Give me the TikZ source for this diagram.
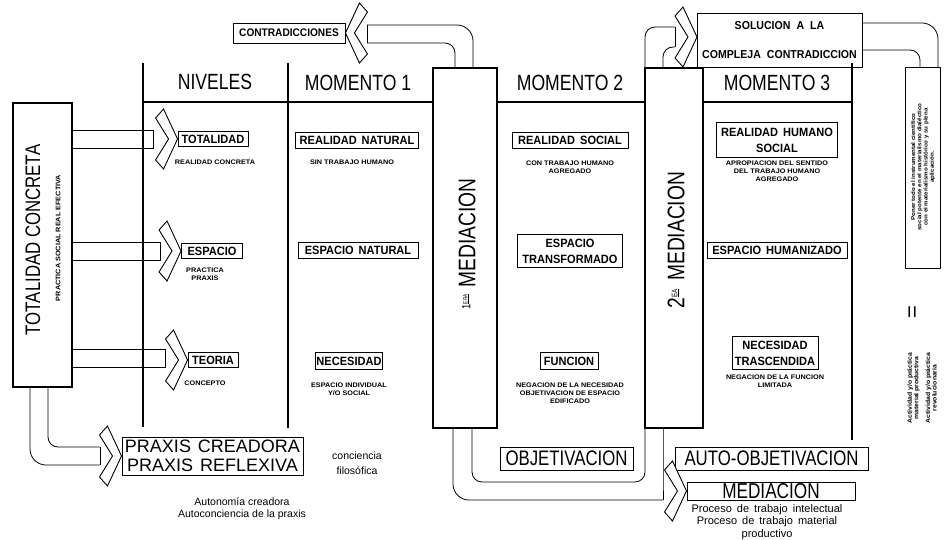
\documentclass[tikz,border=0pt]{standalone}
\usepackage{fontspec}
\setmainfont{Liberation Sans}
\newfontfamily\nar[FakeStretch=0.8]{Liberation Sans}
\newfontfamily\bxf[FakeStretch=0.92]{Liberation Sans}
\newfontfamily\wdf[FakeStretch=1.1]{Liberation Sans}
\tikzset{
  sepline/.style={line width=2},
  medbox/.style={draw,line width=1.2,inner sep=0},
  lbox/.style={draw,line width=0.9,inner sep=1,align=center,font=\bxf\bfseries\fontsize{12}{16}\selectfont},
  tinyt/.style={inner sep=0,align=center,font=\wdf\bfseries\fontsize{6.6}{8}\selectfont},
  bigt/.style={inner sep=0,align=center,font=\nar\fontsize{22}{18}\selectfont},
  bigbox/.style={draw,line width=1,inner sep=0,align=center,font=\nar\fontsize{21}{18}\selectfont},
  hand/.style={inner sep=0,align=center,font=\fontsize{10.5}{12}\selectfont},
  pipe/.style={line width=0.8,rounded corners=10},
  pipeo/.style={line width=0.8,rounded corners=16},
  pipec/.style={line width=0.8},
  chev/.pic={\filldraw[fill=white,draw=black,line width=0.9] (0,0) -- (-14,30) -- (-22,21) -- (-9,0) -- (-22,-21) -- (-14,-30) -- cycle;}
}
\begin{document}
\begin{tikzpicture}[x=1pt,y=-1pt]
\fill[white] (0,0) rectangle (950,540);
\useasboundingbox (0,0) rectangle (950,540);

% ---------- main boxes
\node[medbox, minimum width=59, minimum height=284] (tc) at (42.5,245) {};
\node[bigt, font=\nar\fontsize{21}{21}\selectfont, rotate=90] (tct) at (33,240) {TOTALIDAD CONCRETA};
\node[tinyt, rotate=90] (tcs) at (58,238) {PRACTICA SOCIAL REAL EFECTIVA};

\node[medbox, minimum width=64, minimum height=360] (m1) at (465,248) {};
\node[medbox, minimum width=58, minimum height=360] (m2) at (674,248) {};
\node[bigt, rotate=90, font=\nar\fontsize{24}{24}\selectfont] (m1t) at (467,244)
  {\raisebox{5pt}{\fontsize{12}{12}\selectfont 1\raisebox{3pt}{\fontsize{6}{6}\selectfont\underline{ERA}}}\hspace{7pt}MEDIACION};
\node[bigt, rotate=90, font=\nar\fontsize{24}{24}\selectfont] (m2t) at (676,240)
  {2\raisebox{7pt}{\fontsize{8}{8}\selectfont\underline{EA}}\hspace{8pt}MEDIACION};

% ---------- separators and header
\draw[sepline] (143,63) -- (143,427);
\draw[sepline] (288,63) -- (288,428);
\draw[sepline] (852,63) -- (852,440);
\draw[sepline] (143,102) -- (m1.west |- 0,102);
\draw[sepline] (m1.east |- 0,102) -- (m2.west |- 0,102);
\draw[sepline] (m2.east |- 0,102) -- (852,102);
\node[bigt] (hniv) at (215,82) {NIVELES};
\node[bigt] (hm1) at (358,83) {MOMENTO 1};
\node[bigt] (hm2) at (570,83) {MOMENTO 2};
\node[bigt] (hm3) at (777,83) {MOMENTO 3};

% ---------- NIVELES
\node[lbox, minimum width=70, minimum height=15] (tot) at (213,139) {TOTALIDAD};
\node[tinyt] (totc) at (215,162) {REALIDAD CONCRETA};
\node[lbox, minimum width=61, minimum height=15] (esp) at (212,251) {ESPACIO};
\node[tinyt] (espc) at (205,274) {PRACTICA\\PRAXIS};
\node[lbox, minimum width=50, minimum height=15] (teo) at (213,360) {TEORIA};
\node[tinyt] (teoc) at (205,383) {CONCEPTO};

% ---------- MOMENTO 1
\node[lbox, minimum width=123, minimum height=16] (rn) at (357,140) {REALIDAD\hspace{5pt}NATURAL};
\node[tinyt] (rnc) at (352,162) {SIN TRABAJO HUMANO};
\node[lbox, minimum width=120, minimum height=16] (en) at (358,250) {ESPACIO\hspace{5pt}NATURAL};
\node[lbox, minimum width=52, minimum height=17] (ne) at (349,361) {NECESIDAD};
\node[tinyt] (nec) at (349,389) {ESPACIO INDIVIDUAL\\Y/O SOCIAL};

% ---------- MOMENTO 2
\node[lbox, minimum width=116, minimum height=16] (rs) at (570,140) {REALIDAD\hspace{5pt}SOCIAL};
\node[tinyt] (rsc) at (570,167) {CON TRABAJO HUMANO\\AGREGADO};
\node[lbox, minimum width=105, minimum height=33] (et) at (570,251) {ESPACIO\\TRANSFORMADO};
\node[lbox, minimum width=58, minimum height=17] (fu) at (569,361) {FUNCION};
\node[tinyt] (fuc) at (570,393) {NEGACION DE LA NECESIDAD\\OBJETIVACION DE ESPACIO\\EDIFICADO};

% ---------- MOMENTO 3
\node[lbox, minimum width=121, minimum height=35] (rh) at (777,140) {REALIDAD\hspace{5pt}HUMANO\\SOCIAL};
\node[tinyt] (rhc) at (777,171) {APROPIACION DEL SENTIDO\\DEL TRABAJO HUMANO\\AGREGADO};
\node[lbox, minimum width=140, minimum height=16] (eh) at (777,250) {ESPACIO\hspace{5pt}HUMANIZADO};
\node[lbox, minimum width=86, minimum height=33] (nt) at (775,353) {NECESIDAD\\TRASCENDIDA};
\node[tinyt] (ntc) at (775,381) {NEGACION DE LA FUNCION\\LIMITADA};

% ---------- top
\node[lbox, font=\bxf\bfseries\fontsize{11}{11}\selectfont, minimum width=112, minimum height=20] (con) at (289,33) {CONTRADICCIONES};
\node[lbox, font=\bxf\bfseries\fontsize{11.5}{13}\selectfont, minimum width=165, minimum height=54] (sol) at (779.5,40)
  {SOLUCION\hspace{6pt}A\hspace{6pt}LA\\[16pt]COMPLEJA\hspace{6pt}CONTRADICCION};

% ---------- right column
\node[draw, line width=1, minimum width=35, minimum height=200, inner sep=0] (rb) at (922.5,168) {};
\node[tinyt, rotate=90, font=\wdf\bfseries\fontsize{5.6}{6.2}\selectfont] (rbt) at (923,167)
  {Poner todo el instrumental científico\\social potente en el materialismo dialéctico\\con el materialismo histórico y su plena\\aplicación.};
\node[rotate=90, inner sep=0, font=\fontsize{22}{22}\selectfont] (eqs) at (914,312) {=};
\node[tinyt, rotate=90, font=\wdf\bfseries\fontsize{6.2}{6.6}\selectfont] (actt) at (922,388)
  {Actividad y/o práctica\\material productiva\\[5pt]Actividad y/o práctica\\revolucionaria};

% ---------- bottom
\node[bigbox, font=\fontsize{18}{19.5}\selectfont, minimum width=181, minimum height=38] (px) at (212.5,456)
  {PRAXIS\hspace{7pt}CREADORA\\PRAXIS\hspace{7pt}REFLEXIVA};
\node[hand, font=\fontsize{10.5}{15}\selectfont] (conc) at (357,463) {conciencia\\filosófica};
\node[hand] (autn) at (242,509) {Autonomía creadora\\Autoconciencia de la praxis};
\node[bigbox, minimum width=133, minimum height=23] (obj) at (566.5,458.5) {OBJETIVACION};
\node[bigbox, minimum width=193, minimum height=23] (ao) at (771.5,458.5) {AUTO-OBJETIVACION};
\node[bigbox, font=\nar\fontsize{21.5}{21.5}\selectfont, minimum width=168, minimum height=18] (medb) at (771,491) {MEDIACION};
\node[hand, font=\fontsize{11}{12.5}\selectfont] (proc) at (767,522) {Proceso\hspace{5pt}de\hspace{5pt}trabajo\hspace{5pt}intelectual\\Proceso\hspace{5pt}de\hspace{5pt}trabajo\hspace{5pt}material\\productivo};

% ---------- pipes
% totalidad concreta -> niveles
\coordinate (c1a) at (153,130); \coordinate (c1b) at (153,148);
\coordinate (c2a) at (160,242); \coordinate (c2b) at (160,260);
\coordinate (c3a) at (165,349); \coordinate (c3b) at (165,367);
\draw[pipec] (tc.east |- c1a) -- (c1a) -- (c1b) -- (tc.east |- c1b);
\draw[pipec] (tc.east |- c2a) -- (c2a) -- (c2b) -- (tc.east |- c2b);
\draw[pipec] (tc.east |- c3a) -- (c3a) -- (c3b) -- (tc.east |- c3b);
\pic at (tot.west) {chev};
\pic at (esp.west) {chev};
\pic at (teo.west) {chev};

% totalidad concreta -> praxis
\coordinate (c4a) at (100,447); \coordinate (c4b) at (100,465);
\draw[pipe] (tc.south -| 48,0) -- (48,447) -- (c4a);
\draw[pipeo] (tc.south -| 30,0) -- (30,465) -- (c4b);
\draw[pipec] (c4a) -- (c4b);
\pic at (px.west) {chev};

% 1era mediacion -> contradicciones
\coordinate (c5a) at (367,25); \coordinate (c5b) at (367,43);
\draw[pipeo] (m1.north -| 473,0) -- (473,25) -- (c5a);
\draw[pipe] (m1.north -| 455,0) -- (455,43) -- (c5b);
\draw[pipec] (c5a) -- (c5b);
\pic[rotate=180] at (con.east) {chev};

% 2da mediacion -> solucion
\coordinate (c6a) at (675,27); \coordinate (c6b) at (675,47);
\coordinate (c6t) at (697,37);
\draw[pipe] (m2.north -| 645,0) -- (645,27) -- (c6a);
\draw[pipe] (m2.north -| 663,0) -- (663,47) -- (c6b);
\draw[pipec] (c6a) -- (c6b);
\pic at (c6t) {chev};

% solucion -> right box
\draw[pipeo] (sol.east |- 0,23) -- (938,23) -- (rb.north -| 938,0);
\draw[pipe] (sol.east |- 0,50) -- (920,50) -- (rb.north -| 920,0);

% mediaciones -> mediacion (bottom)
\coordinate (c7a) at (663,482); \coordinate (c7b) at (663,500);
\draw[pipeo] (m1.south -| 453,0) -- (453,500) -- (c7b);
\draw[pipe] (m1.south -| 472,0) -- (472,482) -- (645,482) -- (m2.south -| 645,0);
\draw[pipec] (m2.south -| 663,0) -- (c7a) -- (c7b);
\pic at (medb.west) {chev};
\end{tikzpicture}
\end{document}
